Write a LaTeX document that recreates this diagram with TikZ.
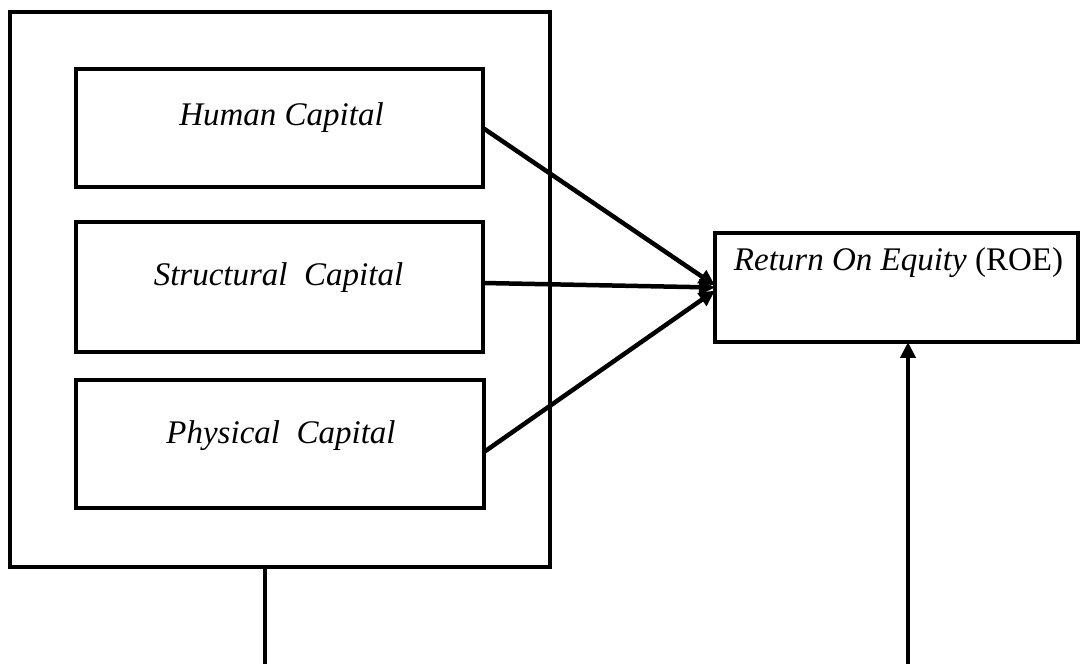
\documentclass[tikz,border=0pt]{standalone}
\usepackage{fontspec}
\setmainfont{Liberation Serif}
\usetikzlibrary{arrows.meta,calc}

\begin{document}
\begin{tikzpicture}[x=1pt, y=1pt, font=\fontsize{33}{40}\selectfont]

        % Styles
        \tikzstyle{frame} = [draw=black, line width=4.5pt, inner sep=0pt, outer sep=0pt]
        \tikzstyle{caption} = [inner sep=0pt]
        \tikzstyle{link} = [line width=4.5pt, -{Triangle[length=16pt,width=15pt]}]

        \useasboundingbox (0,0) rectangle (1080,664);

        % Outer frame holding the capital components
        \node[frame, minimum width=540pt, minimum height=555pt] (ic) at (280,374.5) {};

        % Components
        \node[frame, minimum width=407pt, minimum height=118pt] (hc) at (279.5,536) {};
        \node[caption] at ([xshift=2pt,yshift=10pt]hc.center) {\textit{Human Capital}};

        \node[frame, minimum width=407pt, minimum height=130pt] (sc) at (279.5,377) {};
        \node[caption] at ([xshift=-1pt,yshift=9pt]sc.center) {\textit{Structural\ \ Capital}};

        \node[frame, minimum width=408pt, minimum height=128pt] (pc) at (280,220) {};
        \node[caption] at ([xshift=1pt,yshift=8pt]pc.center) {\textit{Physical\ \ Capital}};

        % Dependent variable
        \node[frame, minimum width=363pt, minimum height=109pt] (roe) at (896.5,376.5) {};
        \node[caption] at ([xshift=2pt,yshift=25pt]roe.center) {\textit{Return On Equity} (ROE)};

        % Arrows to ROE
        \draw[link] (hc.east) -- ([yshift=2pt]roe.west);
        \draw[link] ([yshift=4pt]sc.east) -- (roe.west);
        \draw[link] ([yshift=-8pt]pc.east) -- ([yshift=-3pt]roe.west);

        % Bottom connector
        \coordinate (lbot) at (265,0);
        \coordinate (rbot) at (908,0);
        \draw[line width=4.5pt] (lbot |- ic.south) -- (lbot);
        \draw[link] (rbot) -- (rbot |- roe.south);

    \end{tikzpicture}
\end{document}
